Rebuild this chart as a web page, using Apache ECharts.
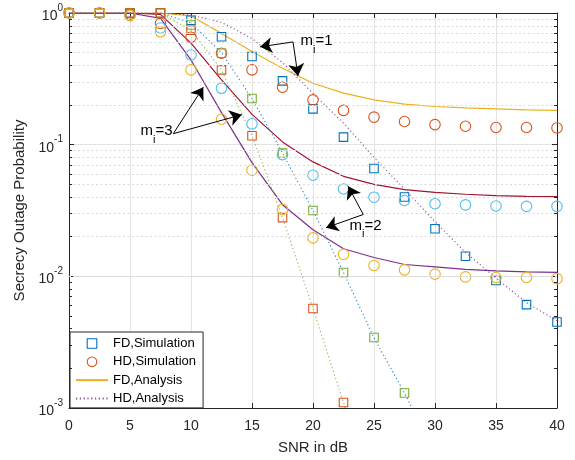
<!DOCTYPE html>
<html><head><meta charset="utf-8">
<script src="https://cdn.jsdelivr.net/npm/echarts/dist/echarts.min.js"></script>
<style>html,body{margin:0;padding:0;background:#fff}#c{width:575px;height:460px}</style>
</head><body><div id="c"></div>
<script>
// SNR grid (dB)
const snr = [0,2.5,5,7.5,10,12.5,15,17.5,20,22.5,25,27.5,30,32.5,35,37.5,40];

// m_i = 1
const fdSimM1 = [1,1,1,1,0.88,0.66,0.467,0.305,0.187,0.114,0.066,0.040,0.023,0.0142,0.0093,0.0061,0.0045];
const hdSimM1 = [1,1,0.98,0.835,0.655,0.495,0.37,0.273,0.219,0.182,0.162,0.150,0.142,0.138,0.135,0.135,0.134];
const fdAnaM1 = [1,1,1,1,0.95,0.70,0.51,0.38,0.293,0.246,0.219,0.203,0.195,0.190,0.187,0.184,0.182];
const hdAnaM1 = [1,1,1,1,0.965,0.85,0.64,0.42,0.245,0.146,0.08,0.046,0.026,0.0152,0.0097,0.0063,0.0046];
// m_i = 2
const fdSimM2 = [1,1,1,1,0.81,0.495,0.224,0.0865,0.0316,0.0107,0.00343,0.0013,null,null,null,null,null];
const hdSimM2 = [1,1,0.96,0.77,0.48,0.268,0.144,0.084,0.0586,0.0461,0.0399,0.0377,0.0356,0.0349,0.0342,0.034,0.034];
const fdAnaM2 = [1,1,1,0.977,0.59,0.31,0.17,0.105,0.074,0.0575,0.05,0.0455,0.0434,0.042,0.041,0.0405,0.0403];
const hdAnaM2 = [1,1,1,1,0.84,0.50,0.224,0.0865,0.0316,0.0107,0.0034,0.0013,0.00045,null,null,null,null];
// m_i = 3
const fdSimM3 = [1,1,1,1,0.74,0.37,0.117,0.0279,0.0057,0.0011,null,null,null,null,null,null,null];
const hdSimM3 = [1,1,0.955,0.72,0.37,0.156,0.064,0.0322,0.0196,0.0147,0.0121,0.0112,0.0104,0.0099,0.0098,0.0098,0.0096];
const fdAnaM3 = [1,1,1,0.91,0.44,0.175,0.073,0.035,0.0226,0.0162,0.0139,0.0123,0.0118,0.0113,0.011,0.0108,0.0107];
const hdAnaM3 = [1,1,1,1,0.74,0.37,0.117,0.028,0.0057,0.0011,0.0002,null,null,null,null,null,null];

const legendNames = ['FD,Simulation','HD,Simulation','FD,Analysis','HD,Analysis'];
const xTicks = [0,5,10,15,20,25,30,35,40];
const yDecades = [0.001,0.01,0.1,1];

// annotations (data coordinates): label anchor and arrows [from, to]
const annM1 = {text:'1', at:[18.93,0.577], arrows:[[[18.36,0.603],[15.66,0.553]],[[18.36,0.603],[18.77,0.333]]]};
const annM2 = {text:'2', at:[22.95,0.0229], arrows:[[[24.12,0.0295],[22.89,0.0483]],[[24.12,0.0295],[21.07,0.0234]]]};
const annM3 = {text:'3', at:[5.82,0.1201], arrows:[[[8.55,0.1212],[11.01,0.2735]],[[8.55,0.1212],[14.16,0.1688]]]};

const C = {blue:'#0072BD',orange:'#D95319',yellow:'#EDB120',purple:'#7E2F8E',green:'#77AC30',lblue:'#4DBEEE',dred:'#A2142F'};
const TXT = '#262626';
const FONT = '"Liberation Sans", Arial, Helvetica, sans-serif';

function pair(ys){ const out=[]; ys.forEach((v,i)=>{ if(v!=null) out.push([snr[i], v]); }); return out; }

function sim(name, ys, color, symbol, size){
  return {type:'line', name, data:pair(ys), symbol, symbolSize:size, showSymbol:true,
    lineStyle:{width:0, opacity:0}, itemStyle:{color:'rgba(0,0,0,0)', borderColor:color, borderWidth:1.1},
    emphasis:{disabled:true}, silent:true, animation:false};
}
function ana(name, ys, color, dotted){
  return {type:'line', name, data:pair(ys), symbol:'none', showSymbol:false,
    lineStyle:{color, width: dotted ? 1.1 : 1.2, type: dotted ? [1.2,2.6] : 'solid', opacity: dotted ? 0.85 : 1},
    itemStyle:{color},
    emphasis:{disabled:true}, silent:true, animation:false};
}

// minor log grid values
const minorVals = [];
yDecades.slice(0,3).forEach(d=>{ for(let k=2;k<=9;k++) minorVals.push(+(d*k).toPrecision(3)); });

const gridSeries = {type:'line', name:'_grid', data:[], silent:true, animation:false,
  markLine:{silent:true, animation:false, symbol:['none','none'], label:{show:false},
    lineStyle:{color:'#d9d9d9', type:[2,2.5], width:1},
    data: minorVals.map(v=>({yAxis:v}))}};
const tickSeries = {type:'line', name:'_ticks', data:[], silent:true, animation:false,
  markLine:{silent:true, animation:false, symbol:['none','none'], label:{show:false},
    lineStyle:{color:TXT, type:'solid', width:1},
    data:[
      ...minorVals.map(v=>[{coord:[0,v]},{coord:[0.25,v]}]),
      ...minorVals.map(v=>[{coord:[39.75,v]},{coord:[40,v]}])
    ]}};

function annSeries(a, idx){
  return {type:'line', name:'_ann'+idx, data:[], silent:true, animation:false, z:5,
    markLine:{silent:true, animation:false, symbol:['none','arrow'], symbolSize:12, label:{show:false},
      lineStyle:{color:'#000', type:'solid', width:1},
      itemStyle:{color:'#000'},
      data:a.arrows.map(ar=>[{coord:ar[0]},{coord:ar[1]}])},
    markPoint:{silent:true, animation:false, symbol:'circle', symbolSize:1, itemStyle:{color:'rgba(0,0,0,0)'},
      label:{show:true, position:'right', distance:0, color:'#000', fontFamily:FONT,
        formatter:'{b|m}{s|i}{b|='+a.text+'}',
        rich:{b:{fontSize:15, fontFamily:FONT, color:'#000', lineHeight:22, verticalAlign:'top'},
              s:{fontSize:11, fontFamily:FONT, color:'#000', lineHeight:22, verticalAlign:'bottom'}}},
      data:[{coord:a.at}]}};
}

const series = [
  gridSeries, tickSeries,
  sim(legendNames[0], fdSimM1, C.blue, 'rect', 8.5),
  sim(legendNames[1], hdSimM1, C.orange, 'circle', 10.5),
  ana(legendNames[2], fdAnaM1, C.yellow, false),
  ana(legendNames[3], hdAnaM1, C.purple, true),
  sim('FD,Simulation m2', fdSimM2, C.green, 'rect', 8.5),
  sim('HD,Simulation m2', hdSimM2, C.lblue, 'circle', 10.5),
  ana('FD,Analysis m2', fdAnaM2, C.dred, false),
  ana('HD,Analysis m2', hdAnaM2, C.blue, true),
  sim('FD,Simulation m3', fdSimM3, C.orange, 'rect', 8.5),
  sim('HD,Simulation m3', hdSimM3, C.yellow, 'circle', 10.5),
  ana('FD,Analysis m3', fdAnaM3, C.purple, false),
  ana('HD,Analysis m3', hdAnaM3, C.green, true),
  annSeries(annM1,1), annSeries(annM2,2), annSeries(annM3,3)
];

const hideSym = {color:'rgba(0,0,0,0)', borderColor:'rgba(0,0,0,0)', borderWidth:0};
const chart = echarts.init(document.getElementById('c'), null, {renderer:'canvas'});
chart.setOption({
  animation:false,
  backgroundColor:'#fff',
  textStyle:{fontFamily:FONT},
  grid:{left:69, right:18, top:13, bottom:51, containLabel:false},
  legend:{data:[
      {name:legendNames[0]}, {name:legendNames[1]},
      {name:legendNames[2], itemStyle:hideSym}, {name:legendNames[3], itemStyle:hideSym}],
    orient:'vertical', left:70, top:332, padding:[5,7,3,5],
    itemWidth:32, itemHeight:12, itemGap:5.3, borderColor:TXT, borderWidth:1, backgroundColor:'#fff',
    textStyle:{fontSize:13, color:'#000', fontFamily:FONT}, itemStyle:{borderWidth:1.1}, selectedMode:false},
  xAxis:[
    {type:'value', min:0, max:40, interval:5, position:'bottom',
     name:'SNR in dB', nameLocation:'middle', nameGap:32, nameTextStyle:{fontSize:15, color:TXT, fontFamily:FONT},
     axisLine:{show:true, onZero:false, lineStyle:{color:TXT, width:1}},
     axisTick:{show:true, inside:true, length:5, lineStyle:{color:TXT}},
     axisLabel:{fontSize:14, color:TXT, margin:11, fontFamily:FONT},
     splitLine:{show:true, lineStyle:{color:'#e3e3e3', width:1}}},
    {type:'value', min:0, max:40, interval:5, position:'top',
     axisLine:{show:true, onZero:false, lineStyle:{color:TXT, width:1}},
     axisTick:{show:true, inside:true, length:5, lineStyle:{color:TXT}},
     axisLabel:{show:false}, splitLine:{show:false}}
  ],
  yAxis:[
    {type:'log', logBase:10, min:0.001, max:1, position:'left',
     name:'Secrecy Outage Probability', nameLocation:'middle', nameGap:38, nameRotate:90,
     nameTextStyle:{fontSize:15, color:TXT, fontFamily:FONT},
     axisLine:{show:true, onZero:false, lineStyle:{color:TXT, width:1}},
     axisTick:{show:true, inside:true, length:5, lineStyle:{color:TXT}},
     axisLabel:{color:TXT, margin:6, fontFamily:FONT,
       formatter:v=>'{b|10}{s|'+Math.round(Math.log10(v))+'}',
       rich:{b:{fontSize:14, color:TXT, fontFamily:FONT, lineHeight:20, verticalAlign:'bottom'},
             s:{fontSize:10, color:TXT, fontFamily:FONT, lineHeight:20, verticalAlign:'top'}}},
     splitLine:{show:true, lineStyle:{color:'#e3e3e3', width:1}}},
    {type:'log', logBase:10, min:0.001, max:1, position:'right',
     axisLine:{show:true, onZero:false, lineStyle:{color:TXT, width:1}},
     axisTick:{show:true, inside:true, length:5, lineStyle:{color:TXT}},
     axisLabel:{show:false}, splitLine:{show:false}}
  ],
  series
});
</script></body></html>
